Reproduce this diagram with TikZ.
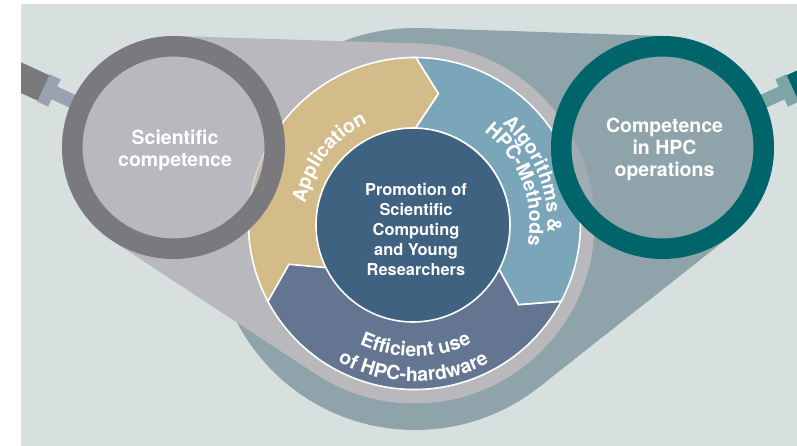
\documentclass[tikz,border=0pt]{standalone}
\usepackage{fontspec}
\setmainfont{TeX Gyre Heros}
\usetikzlibrary{decorations.text}
\definecolor{panel}{HTML}{D8DFDF}
\definecolor{tealgray}{HTML}{8FA4AA}
\definecolor{grayhull}{HTML}{B9B8BD}
\definecolor{ringL}{HTML}{7A797E}
\definecolor{neckL}{HTML}{9AA2B0}
\definecolor{ringR}{HTML}{00656A}
\definecolor{neckR}{HTML}{7EA4A7}
\definecolor{tan}{HTML}{D4BB8A}
\definecolor{lblue}{HTML}{7BA5B8}
\definecolor{slate}{HTML}{637590}
\definecolor{core}{HTML}{3F6280}
\newcommand\arcfont{\fontsize{19.5}{22}\selectfont\bfseries}
\newcommand\lensfont{\fontsize{19.5}{22}\selectfont\bfseries}
\newcommand\corefont{\fontsize{16.4}{19.8}\selectfont\bfseries}
\tikzset{
  segbox/.style={draw=white, line width=1.6pt, line join=miter},
  lenstext/.style={text=white, font=\lensfont, align=center, inner sep=0pt},
  coretext/.style={text=white, font=\corefont, align=center, inner sep=0pt},
  arclabel/.style={decorate, decoration={text along path, text align=center, text={|\arcfont\color{white}|#1}}}
}
\begin{document}
\begin{tikzpicture}[x=1pt,y=1pt]
\useasboundingbox (0,0) rectangle (797,446);
\fill[white] (0,0) rectangle (797,446);
\fill[panel] (21,0) rectangle (797,442);
\coordinate (L) at (173.5,298.5);
\coordinate (R) at (662.5,298.5);
\coordinate (W) at (414.5,222.5);
\coordinate (B) at (415,217);
\coordinate (C) at (413,221);
\begin{scope}
\clip (21,0) rectangle (797,442);
% teal hull
\fill[tealgray] (B) circle[radius=201pt];
\fill[tealgray] (R) circle[radius=111.5pt];
\fill[tealgray] (421.6,417.9) -- (666.2,409.9) -- (731.6,211.0) -- (539.6,59.2) -- cycle;
% gray hull
\fill[grayhull] (W) circle[radius=180pt];
\fill[grayhull] (L) circle[radius=111.5pt];
\fill[grayhull] (176.9,409.95) -- (420.1,402.4) -- (315.8,71.9) -- (112.4,205.2) -- cycle;
% handles
\begin{scope}[shift={(L)}, rotate=155.4]
  \fill[neckL] (100pt,-7pt) rectangle (132pt,7pt);
  \fill[neckL] (131pt,-15pt) rectangle (143pt,15pt);
  \fill[ringL] (143pt,-14pt) rectangle (260pt,14pt);
\end{scope}
\begin{scope}[shift={(R)}, rotate=24.6]
  \fill[neckR] (100pt,-7pt) rectangle (132pt,7pt);
  \fill[neckR] (131pt,-15pt) rectangle (143pt,15pt);
  \fill[ringR] (143pt,-14pt) rectangle (260pt,14pt);
\end{scope}
% wheel segments
\begin{scope}[shift={(W)}]
  \filldraw[segbox, fill=tan] (208:166pt) arc[start angle=208, end angle=89.5, radius=166pt]
     -- (79.5:132pt) -- (89.5:95pt) arc[start angle=89.5, end angle=208, radius=95pt]
     -- (198.5:132pt) -- cycle;
  \filldraw[segbox, fill=lblue] (89.5:166pt) arc[start angle=89.5, end angle=-28, radius=166pt]
     -- (-38:132pt) -- (-28:95pt) arc[start angle=-28, end angle=89.5, radius=95pt]
     -- (79.5:132pt) -- cycle;
  \filldraw[segbox, fill=slate] (-28:166pt) arc[start angle=-28, end angle=-152, radius=166pt]
     -- (-162:132pt) -- (-152:95pt) arc[start angle=-152, end angle=-28, radius=95pt]
     -- (-38:132pt) -- cycle;
\end{scope}
\filldraw[draw=white, line width=1.6pt, fill=core] (C) circle[radius=97pt];
% arc labels
\begin{scope}[shift={(W)}]
  \path[arclabel={Application}] (200:111pt) arc[start angle=200, end angle=85, radius=111pt];
  \path[arclabel={Algorithms {\&}}] (80:133pt) arc[start angle=80, end angle=-35, radius=133pt];
  \path[arclabel={HPC-Methods}] (80:115pt) arc[start angle=80, end angle=-38, radius=115pt];
  \path[arclabel={Efficient use}] (-150:133pt) arc[start angle=-150, end angle=-29, radius=133pt];
  \path[arclabel={of HPC-hardware}] (-150:158pt) arc[start angle=-150, end angle=-30.8, radius=158pt];
\end{scope}
% lenses
\fill[grayhull, fill opacity=0.6] (L) circle[radius=91pt];
\draw[ringL, line width=20.5pt] (L) circle[radius=101.25pt];
\fill[tealgray, fill opacity=0.6] (R) circle[radius=91pt];
\draw[ringR, line width=20.5pt] (R) circle[radius=101.25pt];
\end{scope}
% texts
\node[lenstext] (sci) at (175,296) {Scientific\\competence};
\node[lenstext] (ops) at (664.5,297) {Competence\\in HPC\\operations};
\node[coretext] (promo) at (416,216.5) {Promotion of\\Scientific\\Computing\\and Young\\Researchers};
\end{tikzpicture}
\end{document}
